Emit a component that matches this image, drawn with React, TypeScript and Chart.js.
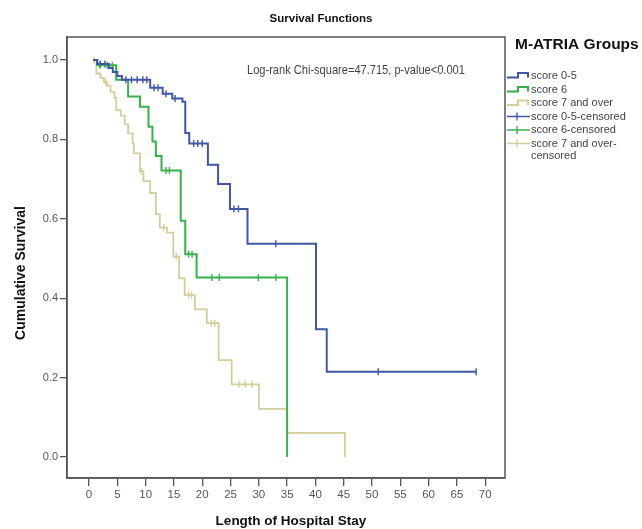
import React, { useEffect, useRef } from "react";
import { Chart, registerables } from "chart.js";

Chart.register(...registerables);

// ---------- data ----------
const xTickValues = [0, 5, 10, 15, 20, 25, 30, 35, 40, 45, 50, 55, 60, 65, 70];
const yTickValues = [0, 0.2, 0.4, 0.6, 0.8, 1.0];

const groupLabels = ["score 0-5", "score 6", "score 7 and over"];
const censorLabels = ["score 0-5-censored", "score 6-censored", "score 7 and over-censored"];

// score 0-5 (event times and survival after each drop)
const blueTimes = [0.7, 1.4, 3.5, 4.2, 5.0, 5.8, 10.8, 13.0, 14.7, 16.5, 17.0, 17.7, 21.0, 22.8, 24.9, 28.0, 40.1, 42.0, 68.4];
const blueSurv = [1.0, 0.99, 0.98, 0.97, 0.96, 0.95, 0.93, 0.915, 0.903, 0.895, 0.816, 0.79, 0.736, 0.688, 0.625, 0.537, 0.322, 0.215, 0.215];
const blueCensored = [2.0, 2.8, 6.5, 7.5, 8.5, 9.5, 10.2, 11.5, 12.2, 13.6, 15.2, 18.5, 19.2, 20.0, 25.6, 26.4, 33.0, 51.1, 68.4];

// score 6
const greenTimes = [0.7, 1.5, 4.8, 6.9, 9.0, 10.5, 11.2, 11.8, 12.8, 16.2, 17.0, 19.0, 35.0];
const greenSurv = [1.0, 0.987, 0.95, 0.908, 0.882, 0.832, 0.795, 0.758, 0.722, 0.595, 0.511, 0.452, 0.0];
const greenCensored = [1.9, 3.2, 4.1, 13.6, 14.2, 17.6, 18.2, 21.7, 23.0, 29.9, 33.0];

// score 7 and over
const tanTimes = [0.7, 1.3, 2.0, 2.6, 3.2, 3.8, 4.5, 4.8, 5.6, 6.3, 6.9, 7.7, 7.9, 9.0, 9.6, 10.8, 11.8, 12.5, 13.8, 14.9, 15.9, 16.9, 18.7, 20.8, 22.9, 25.2, 30.0, 35.0, 45.2];
const tanSurv = [1.0, 0.966, 0.955, 0.945, 0.935, 0.92, 0.905, 0.874, 0.86, 0.838, 0.815, 0.79, 0.765, 0.72, 0.695, 0.665, 0.612, 0.578, 0.565, 0.505, 0.45, 0.408, 0.372, 0.337, 0.244, 0.183, 0.121, 0.061, 0.0];
const tanCensored = [0.9, 2.9, 9.2, 13.2, 15.4, 17.6, 18.1, 21.6, 22.2, 26.5, 27.6, 28.8];

const annotationText = "Log-rank Chi-square=47.715, p-value<0.001";
const chartTitle = "Survival Functions";
const legendTitle = "M-ATRIA Groups";
const xTitle = "Length of Hospital Stay";
const yTitle = "Cumulative Survival";

// ---------- styles ----------
const BLUE = "#3f56a9";
const GREEN = "#35b24a";
const TAN = "#d4cd98";
const AXIS = "#555555";
const FONT = "'Liberation Sans', Arial, sans-serif";

function survAt(times: number[], surv: number[], t: number) {
  let v = surv[0];
  for (let i = 0; i < times.length; i++) {
    if (times[i] <= t) v = surv[i];
  }
  return v;
}

const curve = (times: number[], surv: number[]) => times.map((t, i) => ({ x: t, y: surv[i] }));
const marks = (cens: number[], times: number[], surv: number[]) =>
  cens.map((t) => ({ x: t, y: survAt(times, surv, t) }));

const framePlugin = {
  id: "frame",
  afterDraw(chart: any) {
    const { ctx, chartArea: a } = chart;
    ctx.save();
    ctx.strokeStyle = AXIS;
    ctx.lineWidth = 1.5;
    ctx.strokeRect(a.left, a.top, a.right - a.left, a.bottom - a.top);
    ctx.restore();
  },
};

const textPlugin = {
  id: "texts",
  afterDraw(chart: any) {
    const { ctx } = chart;
    ctx.save();
    ctx.textBaseline = "middle";

    // chart title
    ctx.fillStyle = "#111";
    ctx.font = `bold 11.5px ${FONT}`;
    ctx.textAlign = "center";
    ctx.fillText(chartTitle, 321, 19);

    // annotation (condensed face)
    ctx.save();
    ctx.fillStyle = "#444";
    ctx.font = `13.5px ${FONT}`;
    ctx.textAlign = "left";
    ctx.translate(247, 70);
    ctx.scale(0.82, 1);
    ctx.fillText(annotationText, 0, 0);
    ctx.restore();

    // axis titles
    ctx.fillStyle = "#111";
    ctx.font = `bold 13.5px ${FONT}`;
    ctx.textAlign = "center";
    ctx.fillText(xTitle, 291, 521);
    ctx.save();
    ctx.translate(21, 273);
    ctx.rotate(-Math.PI / 2);
    ctx.font = `bold 14px ${FONT}`;
    ctx.fillText(yTitle, 0, 0);
    ctx.restore();

    // legend
    ctx.textAlign = "left";
    ctx.fillStyle = "#111";
    ctx.font = `bold 15.5px ${FONT}`;
    ctx.fillText(legendTitle, 515, 45);

    const colors = [BLUE, GREEN, TAN];
    const rows = [75.5, 89.5, 103];
    ctx.font = `11px ${FONT}`;
    for (let i = 0; i < 3; i++) {
      const y = rows[i];
      ctx.strokeStyle = colors[i];
      ctx.lineWidth = 2;
      ctx.beginPath();
      ctx.moveTo(507, y + 2);
      ctx.lineTo(518, y + 2);
      ctx.lineTo(518, y - 2.5);
      ctx.lineTo(528, y - 2.5);
      ctx.lineTo(528, y + 2);
      ctx.stroke();
      ctx.fillStyle = "#444";
      ctx.fillText(groupLabels[i], 531, y);
    }
    const crow = [116.5, 130, 143.5];
    for (let i = 0; i < 3; i++) {
      const y = crow[i];
      ctx.strokeStyle = colors[i];
      ctx.lineWidth = 1.3;
      ctx.beginPath();
      ctx.moveTo(507, y);
      ctx.lineTo(530, y);
      ctx.moveTo(517, y - 4);
      ctx.lineTo(517, y + 4);
      ctx.stroke();
      ctx.fillStyle = "#444";
      if (i < 2) {
        ctx.fillText(censorLabels[i], 531, y);
      } else {
        const parts = censorLabels[i].split("-");
        ctx.fillText(parts[0] + "-", 531, y);
        ctx.fillText(parts[1], 531, y + 12.5);
      }
    }
    ctx.restore();
  },
};

export default function App() {
  const ref = useRef<HTMLCanvasElement | null>(null);

  useEffect(() => {
    if (!ref.current) return;
    const lineDs = (label: string, data: any[], color: string, width: number) => ({
      type: "line" as const,
      label,
      data,
      borderColor: color,
      backgroundColor: color,
      borderWidth: width,
      stepped: "before" as const,
      pointRadius: 0,
      fill: false,
    });
    const markDs = (label: string, data: any[], color: string) => ({
      type: "scatter" as const,
      label,
      data,
      borderColor: color,
      backgroundColor: color,
      pointStyle: "line" as const,
      rotation: 90,
      pointRadius: 3.5,
      pointBorderWidth: 1.4,
      showLine: false,
    });

    const chart = new Chart(ref.current, {
      type: "line",
      data: {
        datasets: [
          lineDs(groupLabels[0], curve(blueTimes, blueSurv), BLUE, 2),
          lineDs(groupLabels[1], curve(greenTimes, greenSurv), GREEN, 2),
          lineDs(groupLabels[2], curve(tanTimes, tanSurv), TAN, 1.8),
          markDs(censorLabels[0], marks(blueCensored, blueTimes, blueSurv), BLUE),
          markDs(censorLabels[1], marks(greenCensored, greenTimes, greenSurv), GREEN),
          markDs(censorLabels[2], marks(tanCensored, tanTimes, tanSurv), TAN),
        ] as any,
      },
      options: {
        animation: false,
        responsive: false,
        devicePixelRatio: 1,
        layout: { padding: { left: 0, right: 137, top: 37, bottom: 0 } },
        plugins: {
          legend: { display: false },
          tooltip: { enabled: false },
          title: { display: false },
        },
        scales: {
          x: {
            type: "linear",
            min: -3.9,
            max: 73.5,
            afterBuildTicks: (s: any) => {
              s.ticks = xTickValues.map((v) => ({ value: v }));
            },
            afterFit: (s: any) => {
              s.height = 51;
            },
            grid: { display: true, drawOnChartArea: false, drawTicks: true, tickLength: 8, color: AXIS, lineWidth: 1.3 },
            border: { display: true, color: AXIS, width: 1.5 },
            ticks: {
              autoSkip: false,
              maxRotation: 0,
              padding: 2,
              color: "#555",
              font: { family: FONT, size: 11.5 },
              callback: (v: any) => String(v),
            },
          },
          y: {
            type: "linear",
            min: -0.0529,
            max: 1.058,
            afterBuildTicks: (s: any) => {
              s.ticks = yTickValues.map((v) => ({ value: v }));
            },
            afterFit: (s: any) => {
              s.width = 67;
            },
            grid: { display: true, drawOnChartArea: false, drawTicks: true, tickLength: 7, color: AXIS, lineWidth: 1.3 },
            border: { display: true, color: AXIS, width: 1.5 },
            ticks: {
              padding: 2,
              color: "#555",
              font: { family: FONT, size: 11 },
              callback: (v: any) => Number(v).toFixed(1),
            },
          },
        },
      } as any,
      plugins: [framePlugin, textPlugin],
    });
    return () => chart.destroy();
  }, []);

  return (
    <div style={{ position: "fixed", left: 0, top: 0, width: 642, height: 529, background: "#fff" }}>
      <canvas ref={ref} width={642} height={529} style={{ display: "block" }} />
    </div>
  );
}
